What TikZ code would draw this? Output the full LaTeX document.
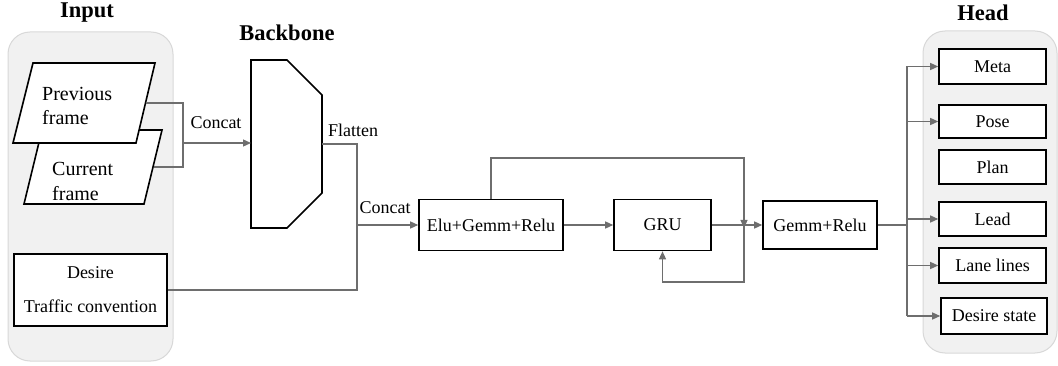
\documentclass[tikz,border=0pt]{standalone}
\usepackage{fontspec}
\setmainfont{Liberation Serif}
\usetikzlibrary{arrows.meta}
\definecolor{conncol}{HTML}{6E6E6E}
\definecolor{panelfill}{HTML}{F1F1F1}
\definecolor{paneldraw}{HTML}{D8D8D8}
\newcommand{\fsn}{\fontsize{18}{24}\selectfont}
\newcommand{\fst}{\fontsize{22.5}{26}\selectfont\bfseries}
\tikzset{
  panel/.style={fill=panelfill, draw=paneldraw, line width=1pt, rounded corners=22pt},
  blk/.style={draw=black, line width=1.6pt, fill=white, inner sep=0pt, font=\fsn},
  shp/.style={draw=black, line width=1.6pt, fill=white, line join=miter},
  conn/.style={draw=conncol, line width=1.3pt},
  arr/.style={conn, -{Triangle[length=8pt,width=7pt]}},
  lbl/.style={font=\fsn, inner sep=0pt},
  ttl/.style={font=\fst, inner sep=0pt}
}
\begin{document}
\begin{tikzpicture}[x=1pt,y=-1pt]
\useasboundingbox (0,0) rectangle (1058,366);
% panels
\draw[panel] (8,32) rectangle (173,361);
\draw[panel] (923,31) rectangle (1057,353);
% titles
\node[ttl] (tin) at (87,13) {Input};
\node[ttl] (tbb) at (287,33) {Backbone};
\node[ttl] (thd) at (983,13) {Head};
% frames
\draw[shp] (42,130) -- (162,130) -- (144,204) -- (24,204) -- cycle;
\draw[shp] (33,63) -- (155,63) -- (136,143) -- (13,143) -- cycle;
\node[lbl, anchor=west, align=left, font={\fontsize{20}{24}\selectfont}] (prevtxt) at (42,106) {Previous\\frame};
\node[lbl, anchor=west, align=left, font={\fontsize{20}{25}\selectfont}] (curtxt) at (52,181.5) {Current\\frame};
\coordinate (prevR) at (145.5,103);
\coordinate (curR) at (153.5,167);
\coordinate (cj) at (183,143);
% desire box
\node[blk, minimum width=153pt, minimum height=72pt, align=center, font={\fontsize{18}{34}\selectfont}] (des) at (90.5,290) {Desire\\Traffic convention};
% backbone
\draw[shp] (251,60) -- (287,60) -- (322,95) -- (322,193) -- (287,228) -- (251,228) -- cycle;
\coordinate (bbL) at (251,143);
\coordinate (bbR) at (322,144);
% main boxes
\node[blk, minimum width=144pt, minimum height=51pt] (elu) at (491,225) {Elu+Gemm+Relu};
\node[blk, minimum width=97pt, minimum height=51pt] (gru) at (662.5,225) {GRU};
\node[blk, minimum width=114pt, minimum height=48pt] (gemm) at (820,225) {Gemm+Relu};
% head boxes
\node[blk, minimum width=107pt, minimum height=35pt] (meta) at (992.5,66.5) {Meta};
\node[blk, minimum width=107pt, minimum height=33pt] (pose) at (992.5,121.5) {Pose};
\node[blk, minimum width=107pt, minimum height=34pt] (plan) at (992.5,167) {Plan};
\node[blk, minimum width=107pt, minimum height=34pt] (lead) at (992.5,219) {Lead};
\node[blk, minimum width=107pt, minimum height=35pt] (lane) at (992.5,265.5) {Lane lines};
\node[blk, minimum width=106pt, minimum height=36pt] (dst) at (994,316) {Desire state};
% labels
\node[lbl] (c1) at (216,123) {Concat};
\node[lbl] (fl) at (353,130) {Flatten};
\node[lbl] (c2) at (385,208) {Concat};
% connectors: input concat
\draw[conn] (prevR) -- (prevR -| cj) -- (curR -| cj) -- (curR);
\draw[arr] (cj) -- (bbL);
% flatten + desire concat
\coordinate (fj) at (357,225);
\draw[conn] (bbR) -- (bbR -| fj) -- (des.east -| fj) -- (des.east);
\draw[arr] (fj) -- (elu.west);
% elu -> gru
\draw[arr] (elu.east) -- (gru.west);
% skip connection
\coordinate (sj) at (744,225);
\coordinate (stop) at (744,158);
\draw[arr] (elu.north) |- (stop) -- ([yshift=-3pt]sj);
% gru -> gemm
\draw[arr] (gru.east) -- (gemm.west);
% recurrent feedback
\coordinate (fb) at (744,282);
\draw[arr] (sj) -- (fb) -| (gru.south);
% head branches
\coordinate (hj) at (907,225);
\draw[conn] (gemm.east) -- (hj);
\draw[conn] (hj |- meta.west) -- (hj |- dst.west);
\draw[arr] (hj |- meta.west) -- (meta.west);
\draw[arr] (hj |- pose.west) -- (pose.west);
\draw[arr] (hj |- lead.west) -- (lead.west);
\draw[arr] (hj |- lane.west) -- (lane.west);
\draw[arr] (hj |- dst.west) -- (dst.west);
\end{tikzpicture}
\end{document}
